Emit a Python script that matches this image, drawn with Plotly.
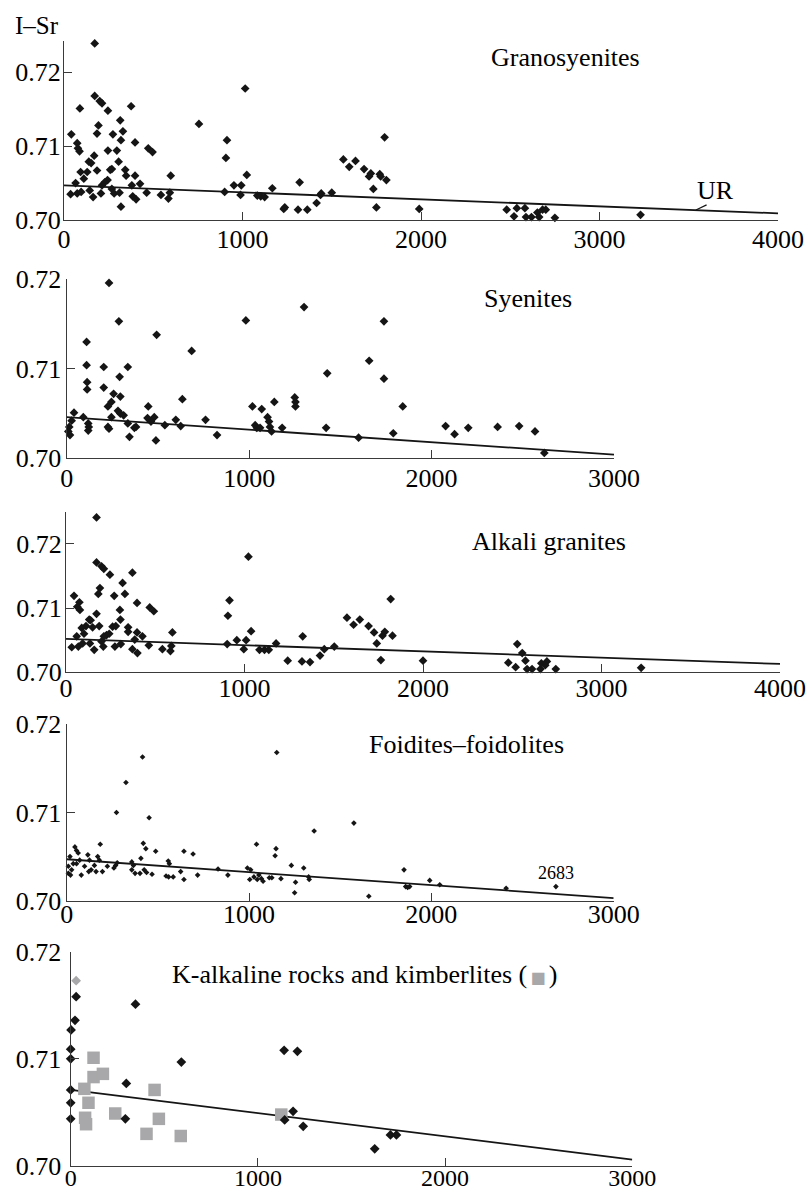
import plotly.graph_objects as go

W, H = 809, 1197

# ---------------- data (age, Ma ; initial 87Sr/86Sr) ----------------
gs_age = [172, 41, 89, 74, 78, 87, 172, 200, 213, 246, 193, 185, 315, 330, 274, 319, 376, 398, 296, 246,
          169, 139, 152, 185, 130, 93, 111, 306, 259, 268, 343, 348, 398, 472, 496, 244, 228, 213, 65, 37,
          74, 96, 144, 163, 207, 268, 281, 311, 319, 380, 385, 404, 426, 463, 543, 585, 598, 593, 756, 913,
          907, 900, 952, 993, 989, 1015, 1024, 1083, 1102, 1124, 1167, 1231, 1237, 1311, 1320, 1363, 1415,
          1437, 1441, 1500, 1565, 1598, 1633, 1681, 1709, 1719, 1733, 1750, 1769, 1774, 1796, 1806, 1990,
          2480, 2521, 2537, 2582, 2588, 2619, 2652, 2662, 2681, 2699, 2750, 3230]
gs_sr = [0.7239, 0.7116, 0.7151, 0.7104, 0.7097, 0.7093, 0.7168, 0.7161, 0.7158, 0.7148, 0.7128, 0.7117,
         0.7135, 0.7120, 0.7116, 0.7108, 0.7154, 0.7105, 0.7094, 0.7094, 0.7087, 0.7079, 0.7077, 0.7067,
         0.7065, 0.7065, 0.7056, 0.7079, 0.7068, 0.7069, 0.7068, 0.7060, 0.7060, 0.7097, 0.7092, 0.7054,
         0.7051, 0.7047, 0.7050, 0.7035, 0.7036, 0.7038, 0.7040, 0.7031, 0.7036, 0.7042, 0.7036, 0.7037,
         0.7018, 0.7047, 0.7032, 0.7028, 0.7049, 0.7037, 0.7034, 0.7029, 0.7060, 0.7037, 0.7130, 0.7108,
         0.7084, 0.7038, 0.7047, 0.7047, 0.7034, 0.7178, 0.7061, 0.7033, 0.7032, 0.7031, 0.7043, 0.7015,
         0.7017, 0.7014, 0.7051, 0.7014, 0.7023, 0.7034, 0.7036, 0.7037, 0.7082, 0.7072, 0.7080, 0.7069,
         0.7059, 0.7063, 0.7042, 0.7017, 0.7062, 0.7059, 0.7112, 0.7054, 0.7015, 0.7014, 0.7005, 0.7016,
         0.7016, 0.7004, 0.7004, 0.7010, 0.7004, 0.7014, 0.7014, 0.7003, 0.7007]

sy_age = [232, 109, 109, 112, 112, 286, 203, 335, 290, 203, 257, 294, 245, 226, 281, 294, 312, 245, 493, 685,
          634, 447, 480, 443, 462, 538, 598, 625, 761, 824, 489, 344, 335, 371, 380, 226, 232, 118, 121, 118,
          91, 40, 27, 14, 9, 18, 982, 1301, 1739, 1658, 1739, 1428, 1018, 1069, 1138, 1101, 1109, 1033, 1042,
          1060, 1114, 1123, 1181, 1250, 1254, 1254, 1422, 1600, 1790, 1842, 2077, 2126, 2201, 2362, 2480,
          2567, 2618]
sy_sr = [0.7196, 0.7130, 0.7104, 0.7085, 0.7077, 0.7153, 0.7102, 0.7102, 0.7091, 0.7079, 0.7072, 0.7069,
         0.7063, 0.7058, 0.7053, 0.7050, 0.7048, 0.7046, 0.7138, 0.7120, 0.7066, 0.7058, 0.7046, 0.7045,
         0.7041, 0.7037, 0.7043, 0.7036, 0.7043, 0.7026, 0.7020, 0.7024, 0.7039, 0.7034, 0.7035, 0.7035,
         0.7033, 0.7039, 0.7035, 0.7031, 0.7046, 0.7051, 0.7042, 0.7035, 0.7030, 0.7026, 0.7154, 0.7169,
         0.7153, 0.7109, 0.7089, 0.7095, 0.7058, 0.7055, 0.7063, 0.7046, 0.7041, 0.7037, 0.7034, 0.7034,
         0.7035, 0.7030, 0.7034, 0.7068, 0.7063, 0.7058, 0.7034, 0.7023, 0.7028, 0.7058, 0.7036, 0.7027,
         0.7034, 0.7035, 0.7036, 0.7030, 0.7006]

ag_age = [171, 45, 75, 63, 78, 171, 199, 212, 246, 190, 181, 317, 270, 330, 372, 302, 398, 171, 469, 492,
          130, 138, 112, 88, 149, 186, 101, 60, 305, 261, 279, 348, 348, 398, 428, 227, 212, 242, 209, 32,
          69, 93, 134, 158, 199, 274, 307, 372, 400, 385, 464, 540, 585, 596, 590, 916, 907, 903, 957, 996,
          1009, 1022, 1037, 1084, 1112, 1136, 1177, 1242, 1326, 1322, 1367, 1423, 1447, 1503, 1574, 1611,
          1646, 1695, 1726, 1741, 1764, 1773, 1786, 1819, 1829, 2000, 2528, 2556, 2478, 2519, 2574, 2583,
          2611, 2658, 2663, 2694, 2685, 2744, 3222]
ag_sr = [0.7241, 0.7119, 0.7109, 0.7102, 0.7097, 0.7171, 0.7165, 0.7161, 0.7152, 0.7131, 0.7122, 0.7139,
         0.7119, 0.7122, 0.7155, 0.7097, 0.7108, 0.7091, 0.7101, 0.7095, 0.7082, 0.7081, 0.7072, 0.7069,
         0.7070, 0.7072, 0.7060, 0.7056, 0.7082, 0.7071, 0.7072, 0.7070, 0.7063, 0.7062, 0.7056, 0.7058,
         0.7056, 0.7060, 0.7040, 0.7039, 0.7040, 0.7045, 0.7045, 0.7035, 0.7048, 0.7040, 0.7044, 0.7036,
         0.7030, 0.7051, 0.7042, 0.7036, 0.7033, 0.7062, 0.7041, 0.7112, 0.7088, 0.7044, 0.7050, 0.7036,
         0.7050, 0.7180, 0.7064, 0.7035, 0.7035, 0.7035, 0.7045, 0.7018, 0.7056, 0.7017, 0.7016, 0.7026,
         0.7036, 0.7040, 0.7085, 0.7074, 0.7082, 0.7072, 0.7062, 0.7045, 0.7019, 0.7057, 0.7063, 0.7114,
         0.7057, 0.7018, 0.7044, 0.7030, 0.7015, 0.7008, 0.7018, 0.7005, 0.7005, 0.7005, 0.7014, 0.7017,
         0.7011, 0.7005, 0.7007]

ff_age = [416, 325, 273, 452, 1152, 1357, 1575, 1041, 1148, 1143, 420, 434, 488, 643, 693, 184, 407, 557,
          563, 625, 643, 718, 545, 559, 584, 830, 884, 991, 1009, 1004, 1027, 1045, 1054, 1068, 1077, 1111,
          1125, 1175, 1232, 1255, 1250, 1300, 1327, 1330, 1657, 1850, 45, 54, 63, 18, 71, 36, 9, 27, 9, 21,
          54, 80, 116, 125, 134, 152, 170, 179, 196, 161, 98, 223, 268, 259, 277, 357, 366, 357, 375, 402,
          425, 438, 468, 121, 1859, 1881, 1870, 1991, 2046, 2410, 2683]
ff_sr = [0.7163, 0.7134, 0.7100, 0.7094, 0.7168, 0.7079, 0.7088, 0.7064, 0.7059, 0.7051, 0.7065, 0.7059,
         0.7056, 0.7056, 0.7053, 0.7064, 0.7048, 0.7045, 0.7042, 0.7033, 0.7024, 0.7029, 0.7028, 0.7027,
         0.7027, 0.7036, 0.7029, 0.7037, 0.7035, 0.7024, 0.7027, 0.7024, 0.7029, 0.7025, 0.7022, 0.7026,
         0.7026, 0.7025, 0.7040, 0.7021, 0.7009, 0.7037, 0.7027, 0.7024, 0.7005, 0.7035, 0.7061, 0.7057,
         0.7054, 0.7050, 0.7046, 0.7042, 0.7039, 0.7035, 0.7031, 0.7029, 0.7042, 0.7029, 0.7052, 0.7046,
         0.7035, 0.7040, 0.7050, 0.7046, 0.7033, 0.7033, 0.7039, 0.7039, 0.7040, 0.7037, 0.7043, 0.7044,
         0.7040, 0.7035, 0.7031, 0.7031, 0.7035, 0.7032, 0.7030, 0.7033, 0.7016, 0.7016, 0.7015, 0.7023,
         0.7018, 0.7014, 0.7016]

kb_age = [29, 23, 2, 0, 0, 0, 0, 0, 346, 591, 297, 292, 1140, 1211, 1188, 1143, 1242, 1624, 1708, 1740]
kb_sr = [0.7158, 0.7136, 0.7127, 0.7109, 0.7100, 0.7071, 0.7059, 0.7044, 0.7151, 0.7097, 0.7077, 0.7044,
         0.7108, 0.7107, 0.7051, 0.7043, 0.7037, 0.7016, 0.7029, 0.7029]
kg_age = [29]
kg_sr = [0.7173]
km_age = [122, 122, 172, 73, 95, 77, 82, 238, 405, 448, 471, 588, 1125]
km_sr = [0.7101, 0.7083, 0.7086, 0.7072, 0.7059, 0.7045, 0.7039, 0.7049, 0.7030, 0.7071, 0.7044, 0.7028, 0.7048]

# UR evolution lines (end points)
ur1_x, ur1_y = [0, 4000], [0.7047, 0.7009]
ur2_x, ur2_y = [0, 3000], [0.7046, 0.7004]
ur3_x, ur3_y = [0, 4000], [0.7052, 0.7013]
ur4_x, ur4_y = [0, 3000], [0.7047, 0.7003]
ur5_x, ur5_y = [0, 3000], [0.7071, 0.7006]

titles = ["Granosyenites", "Syenites", "Alkali granites", "Foidites–foidolites",
          'K-alkaline rocks and kimberlites (<span style="color:#a8a8aa;font-family:DejaVu Sans;'
          'font-size:16px">\u2009■\u2009</span>)']
ytick_vals = [0.70, 0.71, 0.72]
ytick_text = ["0.70", "0.71", "0.72"]

# ---------------- layout geometry (pixels) ----------------
panels = [
    dict(x0=64, x1=778, yb=220, yt=40.5, xmax=4000, ymax=0.7243, tx=489, ty=57, xs=-4, ys=-3, fx=26),
    dict(x0=66.7, x1=614, yb=458.3, yt=279.3, xmax=3000, ymax=0.72, tx=482, ty=299, xs=-4, ys=-1, fx=26),
    dict(x0=66, x1=780, yb=672.3, yt=512.3, xmax=4000, ymax=0.7249, tx=470, ty=541, xs=-8, ys=-2, fx=26),
    dict(x0=66.7, x1=613.7, yb=900.7, yt=724.3, xmax=3000, ymax=0.72, tx=367, ty=744, xs=-10, ys=-1, fx=26),
    dict(x0=70.7, x1=632.3, yb=1166, yt=951.7, xmax=3000, ymax=0.72, tx=170, ty=974, xs=-10, ys=3, fx=24),
]

FONT = "Liberation Serif"
INK = "#151515"
AX = "#3a3a3a"
GRAY = "#a8a8aa"

fig = go.Figure()

series = [
    (gs_age, gs_sr, ur1_x, ur1_y, 6.7),
    (sy_age, sy_sr, ur2_x, ur2_y, 6.7),
    (ag_age, ag_sr, ur3_x, ur3_y, 6.7),
    (ff_age, ff_sr, ur4_x, ur4_y, 4.3),
    (kb_age, kb_sr, ur5_x, ur5_y, 7.5),
]

for i, (xa, ya, lx, ly, ms) in enumerate(series):
    n = "" if i == 0 else str(i + 1)
    fig.add_trace(go.Scatter(x=lx, y=ly, mode="lines", line=dict(color=INK, width=1.8),
                             xaxis="x" + n, yaxis="y" + n, showlegend=False, cliponaxis=False))
    if i == 4:
        fig.add_trace(go.Scatter(x=km_age, y=km_sr, mode="markers",
                                 marker=dict(symbol="square", size=12.5, color=GRAY, line=dict(width=0)),
                                 xaxis="x" + n, yaxis="y" + n, showlegend=False, cliponaxis=False))
        fig.add_trace(go.Scatter(x=kg_age, y=kg_sr, mode="markers",
                                 marker=dict(symbol="diamond", size=ms, color=GRAY, line=dict(width=0)),
                                 xaxis="x" + n, yaxis="y" + n, showlegend=False, cliponaxis=False))
    fig.add_trace(go.Scatter(x=xa, y=ya, mode="markers",
                             marker=dict(symbol="diamond", size=ms, color=INK, line=dict(width=0)),
                             xaxis="x" + n, yaxis="y" + n, showlegend=False, cliponaxis=False))

layout = dict(width=W, height=H, margin=dict(l=0, r=0, t=0, b=0, autoexpand=False),
              paper_bgcolor="white", plot_bgcolor="white", showlegend=False)

annotations = []
for i, p in enumerate(panels):
    n = "" if i == 0 else str(i + 1)
    xv = list(range(0, p["xmax"] + 1, 1000))
    layout["xaxis" + n] = dict(
        domain=[p["x0"] / W, p["x1"] / W], range=[0, p["xmax"]], anchor="y" + n, automargin=False,
        showgrid=False, zeroline=False, showline=True, linecolor=AX, linewidth=1.3,
        ticks="inside", ticklen=8, tickwidth=1.2, tickcolor=AX,
        tickvals=xv, ticktext=[str(v) for v in xv], ticklabelstandoff=p["xs"],
        tickfont=dict(family=FONT, size=p["fx"], color="black"), fixedrange=True)
    layout["yaxis" + n] = dict(
        domain=[1 - p["yb"] / H, 1 - p["yt"] / H], range=[0.70, p["ymax"]], anchor="x" + n,
        automargin=False,
        showgrid=False, zeroline=False, showline=True, linecolor=AX, linewidth=1.3,
        ticks="inside", ticklen=8, tickwidth=1.2, tickcolor=AX,
        tickvals=ytick_vals, ticktext=ytick_text, ticklabelstandoff=p["ys"],
        tickfont=dict(family=FONT, size=26, color="black"), fixedrange=True)
    annotations.append(dict(text=titles[i], x=p["tx"] / W, y=1 - p["ty"] / H, xref="paper", yref="paper",
                            xanchor="left", yanchor="middle", showarrow=False,
                            font=dict(family=FONT, size=26, color="black")))

annotations.append(dict(text="I–Sr", x=13 / W, y=1 - 25 / H, xref="paper", yref="paper",
                        xanchor="left", yanchor="middle", showarrow=False,
                        font=dict(family=FONT, size=25, color="black")))
annotations.append(dict(text="UR", x=695 / W, y=1 - 191 / H, xref="paper", yref="paper",
                        xanchor="left", yanchor="middle", showarrow=False,
                        font=dict(family=FONT, size=26, color="black")))
annotations.append(dict(text="2683", x=2683, y=0.70315, xref="x4", yref="y4",
                        xanchor="center", yanchor="middle", showarrow=False,
                        font=dict(family=FONT, size=18, color="black")))
layout["annotations"] = annotations
layout["shapes"] = [dict(type="line", xref="x", yref="y", x0=3540, y0=0.70135, x1=3600, y1=0.70205,
                         line=dict(color=INK, width=1.2))]

fig.update_layout(**layout)
fig.write_html("out.html")
